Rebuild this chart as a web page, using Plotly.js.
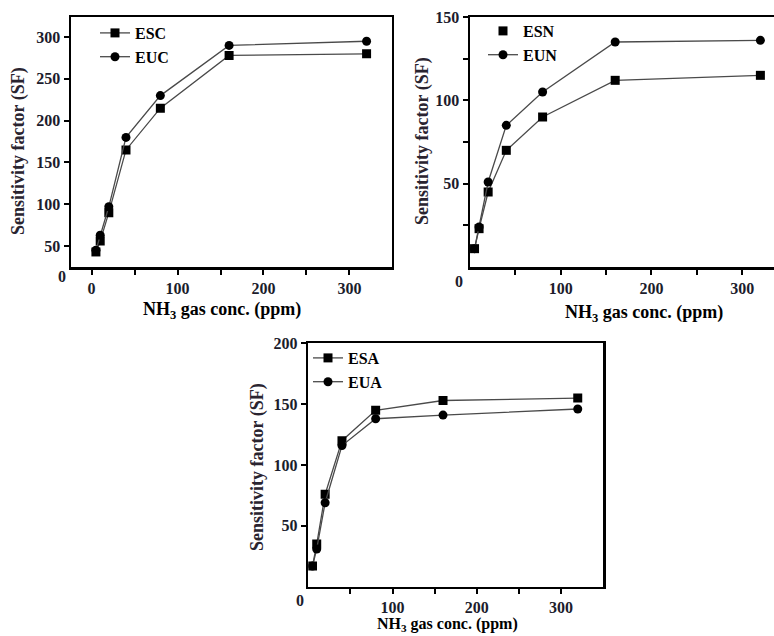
<!DOCTYPE html>
<html>
<head>
<meta charset="utf-8">
<script src="https://cdn.plot.ly/plotly-3.0.1.min.js"></script>
<style>html,body{margin:0;padding:0;background:#fff;}#chart{width:774px;height:636px;}</style>
</head>
<body>
<div id="chart"></div>
<script>
// NH3 concentrations (ppm)
const conc = [5, 10, 20, 40, 80, 160, 320];
// Panel (a): ESC / EUC
const esc = [43, 56, 90, 165, 215, 278, 280];
const euc = [45, 63, 97, 180, 230, 290, 295];
// Panel (b): ESN / EUN
const esn = [11, 23, 45, 70, 90, 112, 115];
const eun = [11, 24, 51, 85, 105, 135, 136];
// Panel (c): ESA / EUA
const esa = [17, 35, 76, 120, 145, 153, 155];
const eua = [17, 31, 69, 116, 138, 141, 146];

const xMajor1 = [0, 100, 200, 300];
const xMajor = [100, 200, 300];
const xMinor = [50, 150, 250];
const yTicks1 = [50, 100, 150, 200, 250, 300];
const yTicks2 = [50, 100, 150];
const yMinor2 = [25, 75, 125];
const yTicks3 = [50, 100, 150, 200];

const FONT = 'Liberation Serif, Times New Roman, serif';
const TXT = '#1c1c2c';
const lineCol = '#4a4a4a';

function tr(x, y, name, sym, xa, ya, lg, showlegend) {
  return {
    x: x, y: y, name: name, type: 'scatter', mode: 'lines+markers',
    xaxis: xa, yaxis: ya, legend: lg, showlegend: showlegend,
    line: {color: lineCol, width: 1.3},
    marker: {symbol: sym, size: 9, color: '#000'}
  };
}

const data = [
  tr(conc, esc, 'ESC', 'square', 'x', 'y', 'legend', true),
  tr(conc, euc, 'EUC', 'circle', 'x', 'y', 'legend', true),
  tr(conc, esn, 'ESN', 'square', 'x2', 'y2', 'legend2', false),
  {x: [null], y: [null], name: 'ESN', type: 'scatter', mode: 'markers', xaxis: 'x2', yaxis: 'y2',
   legend: 'legend2', marker: {symbol: 'square', size: 9, color: '#000'}},
  tr(conc, eun, 'EUN', 'circle', 'x2', 'y2', 'legend2', true),
  tr(conc, esa, 'ESA', 'square', 'x3', 'y3', 'legend3', true),
  tr(conc, eua, 'EUA', 'circle', 'x3', 'y3', 'legend3', true)
];

const tickFont = {family: FONT, size: 16, color: TXT, weight: 'bold'};
function axis(domain, range, vals, minorVals, anchor, mirror) {
  const a = {
    domain: domain, range: range, anchor: anchor,
    tickmode: 'array', tickvals: vals,
    ticks: 'outside', ticklen: 5, tickwidth: 2, tickcolor: '#000',
    showline: true, linewidth: 2.5, linecolor: '#000', mirror: mirror,
    showgrid: false, zeroline: false, tickfont: tickFont
  };
  if (minorVals) {
    a.minor = {tickmode: 'array', tickvals: minorVals, ticks: 'outside', ticklen: 5, tickwidth: 2, tickcolor: '#000', showgrid: false};
  }
  return a;
}

const legFont = {family: FONT, size: 16, color: '#000', weight: 'bold'};
function leg(x, y) {
  return {x: x, y: y, xanchor: 'left', yanchor: 'top', xref: 'paper', yref: 'paper',
          bgcolor: 'rgba(0,0,0,0)', font: legFont, tracegroupgap: 0, itemwidth: 30, traceorder: 'normal'};
}

function px2x(p) { return p / 774; }
function py2y(p) { return 1 - p / 636; }

const titleFont = {family: FONT, size: 18, color: '#000', weight: 'bold'};
const yTitleFont = {family: FONT, size: 18, color: '#2a2430', weight: 'bold'};
function xTitle(x, y, size) {
  return {text: 'NH<sub>3</sub> gas conc. (ppm)', x: px2x(x), y: py2y(y), xref: 'paper', yref: 'paper',
          xanchor: 'center', yanchor: 'middle', showarrow: false,
          font: Object.assign({}, titleFont, size ? {size: size} : {})};
}
function yTitle(x, y) {
  return {text: 'Sensitivity factor (SF)', x: px2x(x), y: py2y(y), xref: 'paper', yref: 'paper',
          xanchor: 'center', yanchor: 'middle', textangle: -90, showarrow: false, font: yTitleFont};
}
function zero(x, y) {
  return {text: '0', x: px2x(x), y: py2y(y), xref: 'paper', yref: 'paper',
          xanchor: 'center', yanchor: 'middle', showarrow: false, font: tickFont};
}

const layout = {
  width: 774, height: 636,
  margin: {l: 0, r: 0, t: 0, b: 0},
  paper_bgcolor: '#fff', plot_bgcolor: '#fff',
  showlegend: true,
  xaxis: axis([px2x(71), px2x(391.5)], [-24, 349], xMajor1, xMinor, 'y', true),
  yaxis: axis([py2y(267), py2y(17)], [25, 324], yTicks1, null, 'x', true),
  xaxis2: axis([px2x(470), 1], [0, 335], xMajor, xMinor, 'y2', true),
  yaxis2: axis([py2y(267), py2y(17)], [0, 150], yTicks2, yMinor2, 'x2', false),
  xaxis3: axis([px2x(308.3), px2x(603)], [0, 350], xMajor, xMinor, 'y3', true),
  yaxis3: axis([py2y(586.7), py2y(343.3)], [0, 200], yTicks3, null, 'x3', true),
  legend: leg(px2x(95), py2y(16)),
  legend2: leg(px2x(483), py2y(14)),
  legend3: leg(px2x(308), py2y(341)),
  annotations: [
    xTitle(222, 311), xTitle(644, 313), xTitle(448, 624.5, 16),
    yTitle(18, 151), yTitle(422, 141), yTitle(257, 467),
    zero(62, 276), zero(459, 281), zero(300, 600)
  ]
};

Plotly.newPlot('chart', data, layout, {displayModeBar: false, staticPlot: true});
</script>
</body>
</html>
